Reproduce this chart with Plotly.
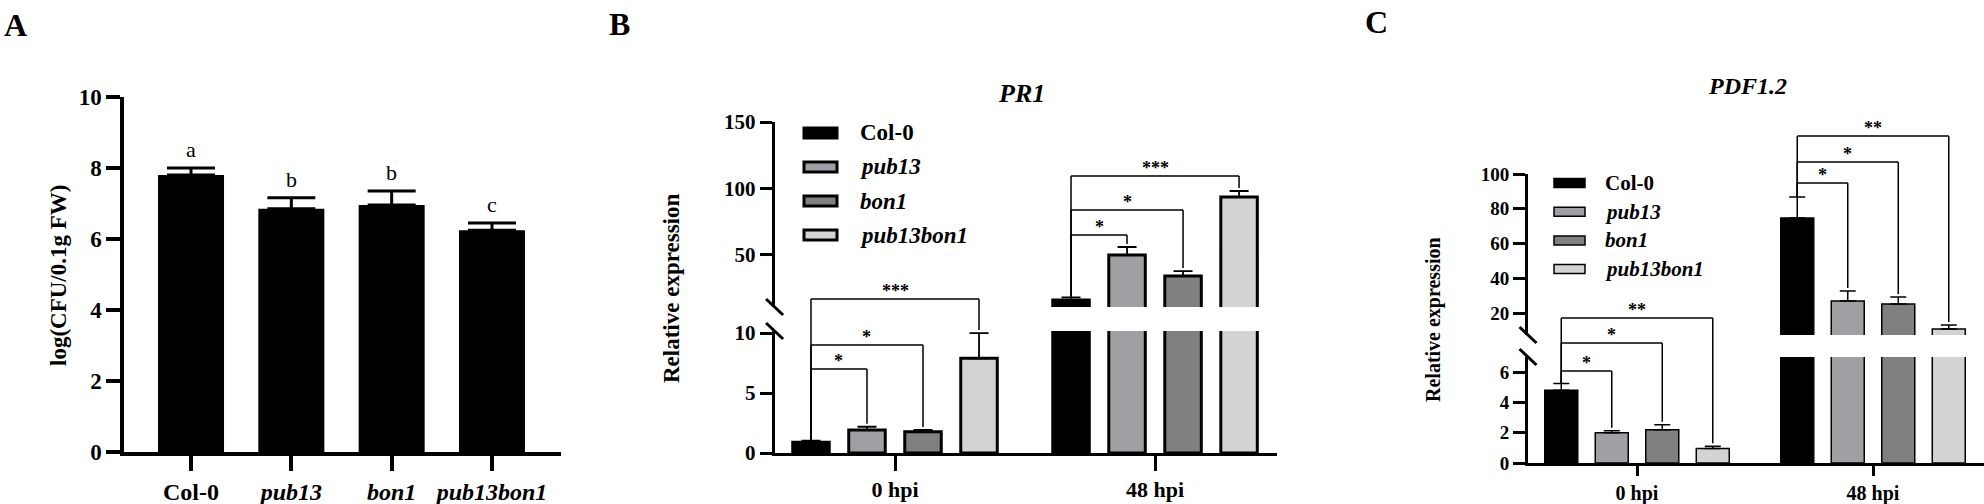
import plotly.graph_objects as go

W, H = 1984, 504
FONT = "Liberation Serif"

# ---------------- data ----------------
genotypes = ["Col-0", "pub13", "bon1", "pub13bon1"]
genotype_labels = ["<b>Col-0</b>", "<b><i>pub13</i></b>", "<b><i>bon1</i></b>", "<b><i>pub13bon1</i></b>"]
colors = ["#000000", "#A0A0A4", "#808080", "#D3D3D3"]

# Panel A: bacterial growth
cfu_mean = [7.8, 6.85, 6.96, 6.25]
cfu_err = [0.2, 0.31, 0.39, 0.2]
cfu_letters = ["a", "b", "b", "c"]
cfu_ticks = [0, 2, 4, 6, 8, 10]

timepoints = ["0 hpi", "48 hpi"]

# Panel B: PR1 relative expression (0 hpi, 48 hpi)
pr1_col0 = [0.89, 15.5]
pr1_pub13 = [1.92, 49.5]
pr1_bon1 = [1.78, 33.7]
pr1_pub13bon1 = [7.9, 93.3]
pr1_col0_err = [0.14, 2.0]
pr1_pub13_err = [0.27, 6.1]
pr1_bon1_err = [0.14, 3.7]
pr1_pub13bon1_err = [2.1, 4.6]
pr1_ticks_low = [0, 5, 10]
pr1_ticks_high = [50, 100, 150]
# significance brackets: (timepoint index, genotype index, axis part, bracket level, label)
pr1_brackets = [(0, 1, "lo", 7.0, "*"), (0, 2, "lo", 9.0, "*"), (0, 3, "hi", 16.3, "***"),
                (1, 1, "hi", 64.6, "*"), (1, 2, "hi", 83.5, "*"), (1, 3, "hi", 109.2, "***")]

# Panel C: PDF1.2 relative expression (0 hpi, 48 hpi)
pdf_col0 = [4.8, 74.7]
pdf_pub13 = [2.0, 26.9]
pdf_bon1 = [2.2, 25.2]
pdf_pub13bon1 = [0.95, 10.8]
pdf_col0_err = [0.45, 12.1]
pdf_pub13_err = [0.12, 5.8]
pdf_bon1_err = [0.32, 4.0]
pdf_pub13bon1_err = [0.15, 2.3]
pdf_ticks_low = [0, 2, 4, 6]
pdf_ticks_high = [20, 40, 60, 80, 100]
pdf_brackets = [(0, 1, "lo", 6.06, "*"), (0, 2, "lo", 7.91, "*"), (0, 3, "hi", 17.1, "**"),
                (1, 1, "hi", 94.8, "*"), (1, 2, "hi", 106.9, "*"), (1, 3, "hi", 121.9, "**")]

pr1_means = [pr1_col0, pr1_pub13, pr1_bon1, pr1_pub13bon1]
pr1_errs = [pr1_col0_err, pr1_pub13_err, pr1_bon1_err, pr1_pub13bon1_err]
pdf_means = [pdf_col0, pdf_pub13, pdf_bon1, pdf_pub13bon1]
pdf_errs = [pdf_col0_err, pdf_pub13_err, pdf_bon1_err, pdf_pub13bon1_err]

# ---------------- layout geometry (pixels) ----------------
def fx(px):
    return px / W

def fy(py):
    return 1 - py / H

A = dict(x0=124, x1=561, xr=[-0.668, 3.688], y_top=97, y_bot=452, yr=[0, 10])
B = dict(x0=774.6, x1=1277, xr=[-0.463, 1.469],
         hi=dict(top=122, bot=307, r=[10.3, 150]),
         lo=dict(top=331, bot=453, r=[0, 10.17]),
         pitch=0.2154, bw=0.1404, line=3, cap=9.5, ethick=1.8)
C = dict(x0=1528, x1=1984, xr=[-0.4619, 1.4703],
         hi=dict(top=174, bot=335, r=[7.34, 100]),
         lo=dict(top=357, bot=463, r=[0, 6.99]),
         pitch=0.214, bw=0.1398, line=1.5, cap=8, ethick=1.5)


def val_py(P, part, v):
    seg = P[part]
    r0, r1 = seg["r"]
    return seg["bot"] - (v - r0) / (r1 - r0) * (seg["bot"] - seg["top"])


def auto_py(P, v):
    return val_py(P, "lo" if v <= P["lo"]["r"][1] else "hi", v)


fig = go.Figure()

# ---------------- Panel A ----------------
fig.add_trace(go.Bar(
    x=genotypes, y=cfu_mean, xaxis="x", yaxis="y",
    marker=dict(color="#000000", line=dict(width=0)),
    width=0.658,
    error_y=dict(type="data", array=cfu_err, arrayminus=[0] * len(cfu_err), symmetric=False,
                 color="#000000", thickness=3, width=24),
    showlegend=False, hoverinfo="skip",
))
for g, m, e, letter in zip(genotypes, cfu_mean, cfu_err, cfu_letters):
    fig.add_annotation(x=g, y=m + e, xref="x", yref="y", text=letter, showarrow=False,
                       yanchor="bottom", yshift=4, font=dict(family=FONT, size=22, color="black"))

# ---------------- Panels B and C (broken axes) ----------------
def add_expr_panel(P, means, errs, xa, ya_hi, ya_lo):
    for i, (name, col, m, e) in enumerate(zip(genotypes, colors, means, errs)):
        off = (i - 1.5) * P["pitch"] - P["bw"] / 2
        # error bar shown only in the segment where the bar top lies
        e_hi = [ee if mm > P["lo"]["r"][1] else None for mm, ee in zip(m, e)]
        e_lo = [ee if mm <= P["lo"]["r"][1] else None for mm, ee in zip(m, e)]
        for ya, ee in ((ya_hi, e_hi), (ya_lo, e_lo)):
            fig.add_trace(go.Bar(
                x=timepoints, y=m, xaxis=xa, yaxis=ya, name=name,
                offset=off, width=P["bw"],
                marker=dict(color=col, line=dict(color="#000000", width=P["line"])),
                error_y=dict(type="data", array=ee, arrayminus=[0] * len(ee), symmetric=False,
                             color="#000000", thickness=P["ethick"], width=P["cap"]),
                showlegend=False, hoverinfo="skip",
            ))


add_expr_panel(B, pr1_means, pr1_errs, "x2", "y2", "y3")
add_expr_panel(C, pdf_means, pdf_errs, "x3", "y4", "y5")


def add_brackets(P, brackets, means, errs, xref, star_size):
    for (t, target, part, level, label) in brackets:
        xl = t + (0 - 1.5) * P["pitch"]
        xr = t + (target - 1.5) * P["pitch"]
        y_level = fy(val_py(P, part, level))
        y_left = fy(auto_py(P, means[0][t] + errs[0][t]))
        y_right = fy(auto_py(P, means[target][t] + errs[target][t]) - 3)
        ln = dict(color="#000000", width=1.5)
        fig.add_shape(type="line", xref=xref, yref="paper", x0=xl, x1=xl, y0=y_left, y1=y_level, line=ln)
        fig.add_shape(type="line", xref=xref, yref="paper", x0=xl, x1=xr, y0=y_level, y1=y_level, line=ln)
        fig.add_shape(type="line", xref=xref, yref="paper", x0=xr, x1=xr, y0=y_level, y1=y_right, line=ln)
        fig.add_annotation(x=(xl + xr) / 2, y=y_level, xref=xref, yref="paper", text=f"<b>{label}</b>",
                           showarrow=False, yanchor="bottom", yshift=-4,
                           font=dict(family=FONT, size=star_size, color="black"))


add_brackets(B, pr1_brackets, pr1_means, pr1_errs, "x2", 18)
add_brackets(C, pdf_brackets, pdf_means, pdf_errs, "x3", 18)

# axis break marks
for P, lw in ((B, 3), (C, 3)):
    ax = P["x0"]
    for yc in (P["hi"]["bot"], P["lo"]["top"]):
        fig.add_shape(type="line", xref="paper", yref="paper",
                      x0=fx(ax - 8.5), x1=fx(ax + 8.5), y0=fy(yc - 8), y1=fy(yc + 8),
                      line=dict(color="#000000", width=lw))

# custom legends
def add_legend(x_box0, x_box1, x_text, y0, dy, hh, lw, size):
    for i, (name, col, lab) in enumerate(zip(genotypes, colors, genotype_labels)):
        yc = y0 + dy * i
        fig.add_shape(type="rect", xref="paper", yref="paper",
                      x0=fx(x_box0), x1=fx(x_box1), y0=fy(yc - hh), y1=fy(yc + hh),
                      fillcolor=col, line=dict(color="#000000", width=lw))
        fig.add_annotation(x=fx(x_text), y=fy(yc), xref="paper", yref="paper", text=lab,
                           showarrow=False, xanchor="left", yanchor="middle",
                           font=dict(family=FONT, size=size, color="black"))


add_legend(804, 837, 858, 133, 34, 5, 3, 23)
add_legend(1554, 1585, 1603, 183, 28.7, 4.5, 1.5, 21)

# ---------------- text ----------------
def txt(x, y, s, size, angle=0, bold=True, italic=False):
    s2 = s
    if italic:
        s2 = f"<i>{s2}</i>"
    if bold:
        s2 = f"<b>{s2}</b>"
    fig.add_annotation(x=fx(x), y=fy(y), xref="paper", yref="paper", text=s2, showarrow=False,
                       textangle=angle, xanchor="center", yanchor="middle",
                       font=dict(family=FONT, size=size, color="black"))


txt(15, 25, "A", 32)
txt(619, 24, "B", 32)
txt(1376, 22, "C", 32)
txt(1021, 93, "PR1", 26, italic=True)
txt(1747, 86, "PDF1.2", 24, italic=True)
txt(58, 276, "log(CFU/0.1g FW)", 23, angle=-90)
txt(671, 288, "Relative expression", 23, angle=-90)
txt(1433, 320, "Relative expression", 20, angle=-90)

# ---------------- axes ----------------
def yax(dom_top, dom_bot, rng, ticks, anchor, size, lw, tl):
    return dict(domain=[fy(dom_bot), fy(dom_top)], range=rng, anchor=anchor, automargin=False,
                tickmode="array", tickvals=ticks, ticktext=[str(t) for t in ticks],
                showline=True, linecolor="#000000", linewidth=lw,
                ticks="outside", ticklen=tl, tickwidth=lw, tickcolor="#000000",
                showgrid=False, zeroline=False, fixedrange=True,
                tickfont=dict(family=FONT, size=size, color="black", weight="bold"))


def xax(x0, x1, rng, cats, labels, anchor, size, lw, tl):
    return dict(domain=[fx(x0), fx(x1)], range=rng, anchor=anchor, type="category", automargin=False,
                categoryorder="array", categoryarray=cats,
                tickmode="array", tickvals=cats, ticktext=labels,
                showline=True, linecolor="#000000", linewidth=lw,
                ticks="outside", ticklen=tl, tickwidth=lw, tickcolor="#000000",
                showgrid=False, zeroline=False, fixedrange=True,
                tickfont=dict(family=FONT, size=size, color="black", weight="bold"))


fig.update_layout(
    width=W, height=H, autosize=False,
    margin=dict(l=0, r=0, t=0, b=0, pad=0, autoexpand=False),
    paper_bgcolor="white", plot_bgcolor="white",
    barmode="overlay", showlegend=False,
    xaxis=xax(A["x0"], A["x1"], A["xr"], genotypes, genotype_labels, "y", 24, 3.5, 15),
    yaxis=yax(A["y_top"], A["y_bot"], A["yr"], cfu_ticks, "x", 23, 3.5, 14),
    xaxis2=xax(B["x0"], B["x1"], B["xr"], timepoints, [f"<b>{t}</b>" for t in timepoints], "y3", 22, 3, 15),
    yaxis2=yax(B["hi"]["top"], B["hi"]["bot"], B["hi"]["r"], pr1_ticks_high, "x2", 21, 3, 12),
    yaxis3=yax(B["lo"]["top"], B["lo"]["bot"], B["lo"]["r"], pr1_ticks_low, "x2", 21, 3, 12),
    xaxis3=xax(C["x0"], C["x1"], C["xr"], timepoints, [f"<b>{t}</b>" for t in timepoints], "y5", 20, 3, 10),
    yaxis4=yax(C["hi"]["top"], C["hi"]["bot"], C["hi"]["r"], pdf_ticks_high, "x3", 19, 3, 12),
    yaxis5=yax(C["lo"]["top"], C["lo"]["bot"], C["lo"]["r"], pdf_ticks_low, "x3", 19, 3, 12),
)

fig.write_html("out.html", config={"displayModeBar": False},
               post_script="document.body.style.margin='0';")
